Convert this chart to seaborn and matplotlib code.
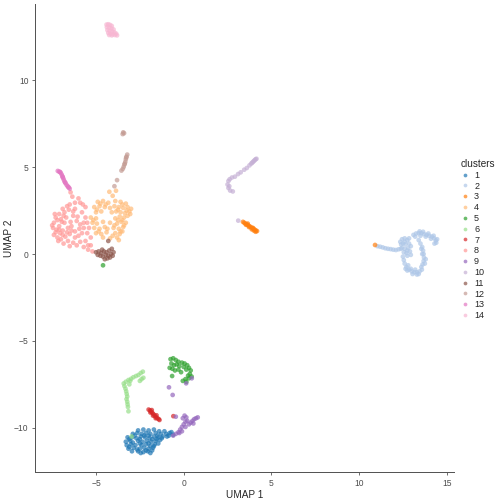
import pandas as pd
import numpy as np
import seaborn as sns
import matplotlib.pyplot as plt

# UMAP coordinates, one list per cluster
c1 = [(-2.6,-10.15),(-2.3,-10.1),(-2.0,-10.15),(-1.7,-10.1),(-1.4,-10.2),
      (-2.9,-10.35),(-2.65,-10.3),(-2.4,-10.35),(-2.15,-10.3),(-1.9,-10.35),(-1.6,-10.3),(-1.3,-10.35),(-1.0,-10.35),(-0.8,-10.3),(-0.6,-10.4),
      (-3.2,-10.55),(-2.95,-10.55),(-2.7,-10.6),(-2.45,-10.5),(-2.2,-10.55),(-1.95,-10.6),(-1.7,-10.5),(-1.45,-10.55),(-1.2,-10.5),(-0.95,-10.5),
      (-3.3,-10.8),(-3.05,-10.75),(-2.6,-10.75),(-2.35,-10.8),(-2.1,-10.75),(-1.85,-10.8),(-1.6,-10.75),(-1.35,-10.7),
      (-3.25,-11.0),(-3.0,-10.95),(-2.75,-11.0),(-2.4,-11.0),(-2.15,-10.95),(-1.9,-11.05),(-1.65,-10.95),(-1.45,-10.9),
      (-3.15,-11.2),(-2.85,-11.15),(-2.5,-11.2),(-2.25,-11.15),(-2.0,-11.2),(-1.75,-11.15),
      (-2.95,-11.35),(-2.6,-11.35),(-2.3,-11.4),(-2.05,-11.35),(-1.8,-11.3),(-0.7,-10.25),(-0.85,-10.45),
      (-3.1,-10.65),(-2.8,-10.45),(-2.5,-10.65),(-2.25,-10.45),(-2.0,-10.45),(-1.8,-10.65),(-1.5,-10.45),(-1.1,-10.2),
      (-2.9,-10.85),(-2.5,-10.9),(-2.0,-10.9),(-1.7,-11.05),(-3.1,-11.1),(-2.65,-11.25),(-2.15,-11.3),(-1.9,-11.45),
      (-2.45,-11.45),(-1.55,-10.65),(-1.25,-10.6)]
c2 = [(11.05,0.45),(11.2,0.42),(11.35,0.38),(11.5,0.33),(11.65,0.3),(11.8,0.28),(11.95,0.25),(12.1,0.23),(12.25,0.27),(12.38,0.3),
      (12.45,0.85),(12.6,0.9),(12.75,0.8),(12.5,0.6),(12.65,0.55),(12.85,0.6),(12.45,0.35),(12.6,0.3),(12.8,0.35),(12.95,0.45),
      (12.55,0.1),(12.7,0.05),(12.9,0.15),(12.5,-0.15),(12.75,-0.1),
      (13.1,1.1),(13.25,1.18),(13.4,1.2),(13.55,1.2),(13.7,1.15),(13.85,1.1),(14.0,1.05),(14.15,1.0),(14.28,0.9),(14.38,0.78),(14.4,0.65),
      (13.5,1.05),(13.8,1.0),(14.1,0.88),(14.3,0.6),
      (13.4,0.8),(13.5,0.6),(13.6,0.4),(13.65,0.2),(13.68,0.0),(13.7,-0.2),(13.68,-0.4),(13.62,-0.6),(13.55,-0.75),
      (12.55,-0.35),(12.6,-0.55),(12.7,-0.75),(12.85,-0.9),(13.0,-1.0),(13.15,-1.05),(13.3,-1.05),(13.45,-1.0),(13.58,-0.9),
      (12.75,-0.95),(13.05,-1.15),(13.3,-1.18),(12.65,-0.85),
      (13.2,1.0),(13.45,1.3),(13.65,1.28),(13.95,1.18),(14.25,1.05),(14.45,0.85),
      (13.55,0.3),(13.6,0.0),(13.8,-0.3),(13.75,-0.55),(12.95,-0.85),(13.2,-0.9),(13.4,-1.15),(12.8,-0.65),
      (12.35,0.7),(12.85,0.9),(12.6,0.7),(12.4,0.55),(12.75,0.2),(12.95,-0.05)]
c3 = [(3.38,1.85),(3.45,1.8),(3.52,1.75),(3.6,1.7),(3.68,1.65),(3.75,1.6),(3.82,1.55),(3.9,1.5),(3.98,1.45),(4.05,1.4),
      (4.12,1.35),(4.18,1.32),(3.55,1.68),(3.72,1.55),(3.88,1.42),(4.0,1.35),(4.1,1.28),(3.65,1.75),(3.95,1.5),(10.91,0.52)]
c4 = [(-4.24,3.58),(-3.86,3.64),(-4.05,3.35),
      (-4.9,3.0),(-4.6,3.05),(-4.3,2.95),(-3.9,3.05),(-3.6,3.0),(-3.3,2.9),
      (-5.1,2.7),(-4.8,2.75),(-4.5,2.7),(-4.2,2.65),(-3.95,2.75),(-3.7,2.7),(-3.45,2.65),(-3.2,2.7),(-3.0,2.6),
      (-5.0,2.4),(-4.7,2.45),(-4.1,2.4),(-3.85,2.45),(-3.6,2.4),(-3.35,2.35),(-3.1,2.45),
      (-5.3,2.1),(-5.0,2.05),(-3.9,2.05),(-3.65,2.15),(-3.4,2.1),(-3.2,2.2),
      (-5.2,1.8),(-4.95,1.75),(-4.6,1.85),(-4.2,1.8),(-3.8,1.75),(-3.55,1.85),(-3.3,1.8),
      (-5.1,1.5),(-4.8,1.45),(-4.5,1.55),(-4.0,1.5),(-3.7,1.45),(-3.45,1.55),
      (-5.0,1.2),(-4.7,1.15),(-4.4,1.25),(-3.9,1.2),(-3.65,1.15),(-3.5,1.3),
      (-4.6,0.95),(-4.2,0.9),(-3.8,0.95),
      (-3.75,2.55),(-3.5,2.85),(-3.25,2.5),(-3.05,2.3),(-3.5,1.95),(-3.75,1.95),(-3.4,1.65),(-3.6,1.3),(-4.75,2.9),
      (-4.45,2.85),(-4.95,2.55),(-5.15,1.95),(-4.85,1.3),(-4.05,1.05),(-3.7,0.8),(-4.35,1.45),(-3.95,1.65)]
c5 = [(-0.75,-6.05),(-0.6,-6.0),(-0.45,-6.1),(-0.3,-6.2),(-0.7,-6.3),(-0.55,-6.4),(-0.4,-6.35),(-0.25,-6.45),(-0.8,-6.55),
      (-0.65,-6.6),(-0.5,-6.7),(-0.3,-6.65),(-0.1,-6.25),(0.05,-6.3),(0.2,-6.4),(0.3,-6.55),(0.4,-6.7),(0.0,-6.5),(0.15,-6.65),
      (0.35,-6.9),(0.45,-7.05),(0.25,-7.0),(0.1,-7.2),(-0.05,-7.3),(0.15,-7.35),(0.3,-7.15),(-0.66,-7.02),(-0.15,-6.8),(-4.6,-0.65)]
c6 = [(-2.33,-6.77),(-2.45,-6.85),(-2.58,-6.96),(-2.72,-7.02),(-2.87,-7.09),(-3.0,-7.18),(-3.15,-7.25),(-3.3,-7.35),(-3.42,-7.45),
      (-3.38,-7.6),(-3.32,-7.75),(-3.28,-7.9),(-3.25,-8.05),(-3.22,-8.2),(-3.26,-8.35),(-3.22,-8.5),(-3.2,-8.65),(-3.18,-8.8),
      (-3.15,-9.05),(-3.1,-7.5),(-3.05,-7.3),(-2.4,-7.2),(-2.3,-7.12),(-2.5,-7.3),(-2.97,-10.5)]
c7 = [(-2.0,-8.95),(-1.92,-9.0),(-1.85,-9.08),(-1.78,-9.15),(-1.72,-9.22),(-1.65,-9.3),(-1.58,-9.38),(-1.5,-9.45),(-1.42,-9.5),
      (-1.38,-9.55),(-1.9,-9.12),(-1.75,-9.3),(-1.6,-9.45),(-1.82,-8.98),(-1.55,-9.28),(-0.59,-9.33)]
c8 = [(-6.45,3.55),(-6.35,3.3),(-6.0,3.2),(-5.9,2.95),(-5.75,2.85),(-5.6,2.7),(-6.5,2.85),(-6.9,2.6),(-6.2,2.95),
      (-7.3,2.1),(-7.4,1.8),(-7.45,1.5),(-7.3,1.25),(-7.1,2.3),(-7.0,2.0),(-7.1,1.6),(-6.9,1.35),(-6.8,2.4),(-6.7,2.1),
      (-6.8,1.8),(-6.6,1.5),(-6.9,1.1),(-7.2,0.95),
      (-6.2,2.6),(-6.3,2.2),(-6.1,1.9),(-6.4,1.6),(-6.2,1.3),(-6.0,1.05),(-5.8,2.4),(-5.6,2.1),(-5.5,1.8),(-5.7,1.5),
      (-5.5,1.2),(-5.3,0.95),(-5.6,0.75),(-5.9,0.7),(-6.3,0.65),(-6.6,0.75),(-6.85,0.6),
      (-5.7,0.4),(-5.45,0.25),(-5.2,0.15),(-5.3,0.5),
      (-7.35,2.3),(-7.2,1.95),(-7.25,1.4),(-7.05,1.2),(-6.75,1.0),(-6.5,1.15),(-6.45,1.85),(-6.55,2.55),(-7.0,0.85),
      (-6.2,0.95),(-5.95,1.45),(-5.8,1.2),
      (-7.5,1.65),(-7.4,1.1),(-7.15,0.75),(-6.95,1.85),(-6.65,1.25),(-6.4,1.35),(-6.3,2.45),(-6.05,2.15),(-5.9,1.7),
      (-5.7,1.8),(-5.4,1.5),(-5.45,0.5),(-6.1,0.5),(-6.5,0.45),(-7.1,1.4),(-6.85,2.2),(-6.65,2.75)]
c9 = [(-0.84,-7.67),(-0.63,-8.11),(0.46,-7.15),(0.14,-7.44),
      (-0.6,-10.45),(-0.45,-10.35),(-0.3,-10.25),(-0.2,-10.1),(-0.1,-9.95),(-0.25,-10.3),(0.0,-9.8),(0.1,-9.65),(-0.05,-9.45),
      (0.05,-9.3),(0.15,-9.4),(0.2,-9.6),(0.4,-9.7),(0.5,-9.6),(0.6,-9.5),(0.7,-9.45),(0.8,-9.4),(0.55,-9.75),(0.3,-9.8),
      (0.1,-9.95),(-0.1,-10.2),(-0.45,-9.36)]
c10 = [(2.55,4.2),(2.5,4.0),(2.55,3.8),(2.65,3.65),(2.8,3.6),(2.62,4.3),(2.75,4.4),(2.6,3.9),(2.92,4.45),(3.1,4.6),(3.25,4.7),
       (3.45,4.85),(3.6,4.95),(3.75,5.1),(3.85,5.2),(3.95,5.3),(4.05,5.4),(4.15,5.48),(4.0,5.35),(3.9,5.25),(4.1,5.45),(3.11,1.92)]
c11 = [(-5.0,0.1),(-4.85,0.15),(-4.7,0.05),(-4.55,0.15),(-4.4,0.1),(-4.25,0.2),(-4.1,0.3),(-4.15,0.0),(-4.3,-0.1),(-4.45,-0.05),
       (-4.6,-0.15),(-4.75,-0.1),(-4.9,-0.05),(-4.5,-0.3),(-4.35,-0.25),(-4.2,-0.2),(-4.05,-0.1),(-4.65,0.25),(-4.0,0.1),(-4.3,0.75)]
c12 = [(-3.45,7.0),(-3.4,6.95),(-3.48,6.9),(-3.22,5.72),(-3.26,5.6),(-3.3,5.45),(-3.33,5.3),(-3.38,5.15),(-3.42,5.02),
       (-3.47,4.9),(-3.55,4.8),(-3.28,5.55),(-3.36,5.2),(-3.8,4.25),(-3.95,3.9)]
c13 = [(-7.18,4.78),(-7.1,4.74),(-7.02,4.68),(-6.96,4.58),(-6.92,4.48),(-6.88,4.38),(-6.84,4.28),(-6.8,4.18),(-6.74,4.08),
       (-6.68,3.98),(-6.62,3.9),(-6.55,3.82),(-6.5,3.76),(-7.05,4.72),(-6.9,4.43),(-6.76,4.12),(-6.58,3.86)]
c14 = [(-4.4,13.2),(-4.3,13.22),(-4.2,13.18),(-4.1,13.12),(-4.38,13.05),(-4.25,13.02),(-4.12,12.98),(-4.0,12.92),(-4.35,12.88),
       (-4.22,12.85),(-4.08,12.8),(-3.95,12.75),(-3.85,12.68),(-4.3,12.72),(-4.18,12.68),(-4.05,12.64),(-3.92,12.6),(-3.8,12.58),
       (-4.25,12.6),(-4.1,12.58)]

cluster_names = [str(i) for i in range(1, 15)]
cluster_points = [c1, c2, c3, c4, c5, c6, c7, c8, c9, c10, c11, c12, c13, c14]
colors = ['#1f77b4', '#aec7e8', '#ff7f0e', '#ffbb78', '#2ca02c', '#98df8a', '#d62728',
          '#ff9896', '#9467bd', '#c5b0d5', '#8c564b', '#c49c94', '#e377c2', '#f7b6d2']

rows = []
for name, pts in zip(cluster_names, cluster_points):
    for x, y in pts:
        rows.append((x, y, name))
df = pd.DataFrame(rows, columns=['UMAP 1', 'UMAP 2', 'clusters'])
df['clusters'] = pd.Categorical(df['clusters'], categories=cluster_names)

sns.set_style('ticks')
plt.rcParams['font.family'] = ['Liberation Sans', 'DejaVu Sans']

fig = plt.figure(figsize=(7, 7), dpi=72)
ax = fig.add_axes([0.0694, 0.0629, 0.832, 0.929])
sns.scatterplot(data=df, x='UMAP 1', y='UMAP 2', hue='clusters', palette=colors,
                s=22, alpha=0.7, linewidth=0, ax=ax)

ax.set_xlim(-8.48, 15.43)
ax.set_ylim(-12.56, 14.38)
ax.set_xticks([-5, 0, 5, 10, 15])
ax.set_yticks([-10, -5, 0, 5, 10])
ax.tick_params(labelsize=8.5, colors='#4d4d4d', length=3, width=0.8)
for side in ['top', 'right']:
    ax.spines[side].set_visible(False)
for side in ['left', 'bottom']:
    ax.spines[side].set_color('#555555')
    ax.spines[side].set_linewidth(1.0)
ax.set_xlabel('UMAP 1', fontsize=10, labelpad=2)
ax.set_ylabel('UMAP 2', fontsize=10, labelpad=0)

leg = ax.legend(title='clusters', loc='center left', bbox_to_anchor=(1.0, 0.497), frameon=False,
                fontsize=9, title_fontsize=10, markerscale=0.8, labelspacing=0.2,
                handlelength=1.0, handletextpad=0.5, borderaxespad=0.3)
leg._legend_box.align = 'left'

fig.savefig('out.png', dpi=72)
